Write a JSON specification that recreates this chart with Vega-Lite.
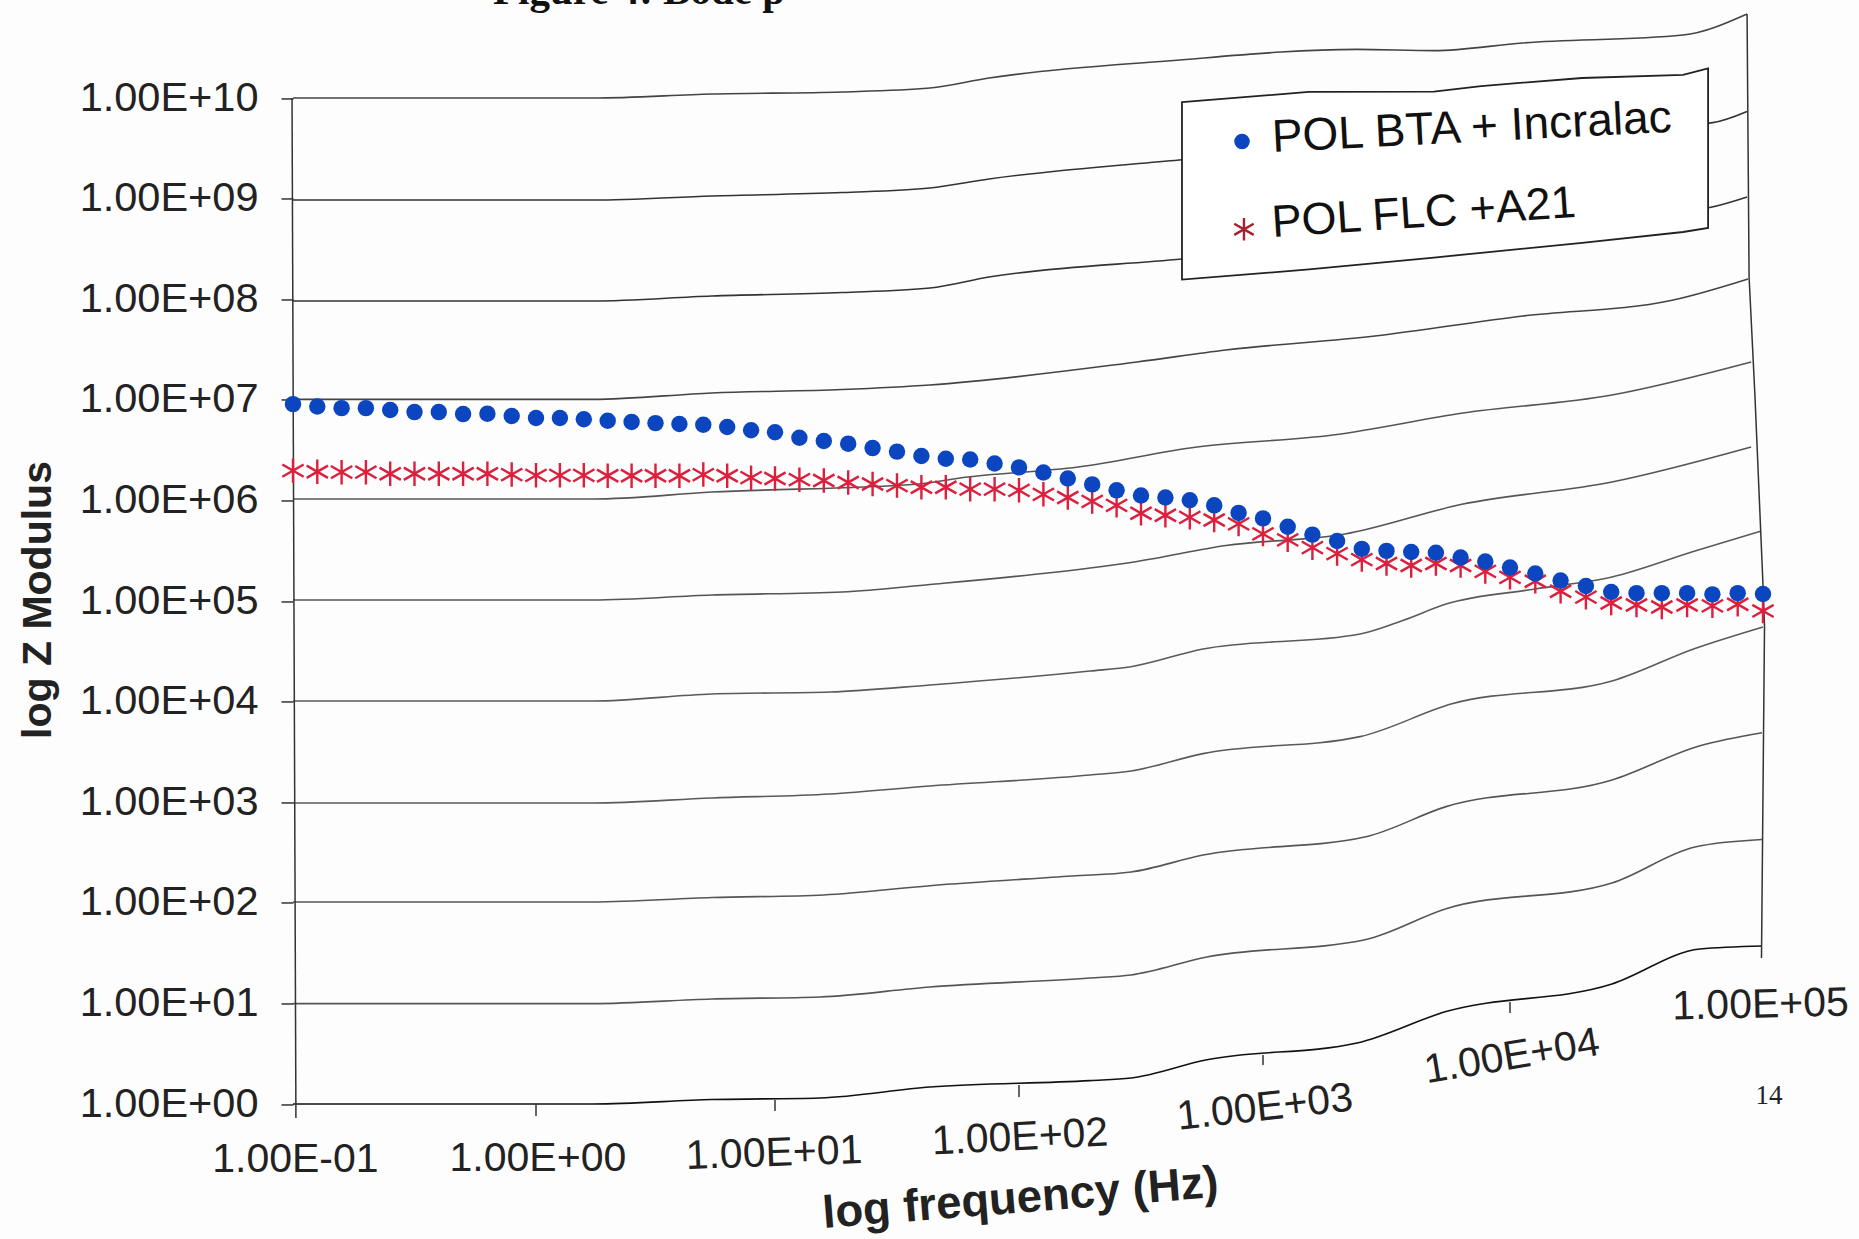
{"$schema":"https://vega.github.io/schema/vega-lite/v6.json","autosize":"none","width":1470,"height":1096.54,"padding":{"left":293,"top":7.46,"right":96,"bottom":135},"background":"#fdfdfd","config":{"view":{"stroke":null},"font":"Liberation Sans"},
"datasets":{
"grid":[
{"s":"1.00E+00","f":-1,"z":0},{"s":"1.00E+00","f":0.238,"z":0},{"s":"1.00E+00","f":0.736,"z":0.044},{"s":"1.00E+00","f":1.184,"z":0.06},{"s":"1.00E+00","f":1.635,"z":0.169},{"s":"1.00E+00","f":2.291,"z":0.232},{"s":"1.00E+00","f":2.459,"z":0.258},{"s":"1.00E+00","f":2.77,"z":0.44},{"s":"1.00E+00","f":3.381,"z":0.606},{"s":"1.00E+00","f":3.741,"z":0.919},{"s":"1.00E+00","f":4.403,"z":1.193},{"s":"1.00E+00","f":4.751,"z":1.541},{"s":"1.00E+00","f":4.996,"z":1.571},
{"s":"1.00E+01","f":-1,"z":0.998},{"s":"1.00E+01","f":0.238,"z":0.998},{"s":"1.00E+01","f":0.736,"z":1.044},{"s":"1.00E+01","f":1.184,"z":1.064},{"s":"1.00E+01","f":1.635,"z":1.163},{"s":"1.00E+01","f":2.291,"z":1.252},{"s":"1.00E+01","f":2.459,"z":1.282},{"s":"1.00E+01","f":2.77,"z":1.461},{"s":"1.00E+01","f":3.417,"z":1.635},{"s":"1.00E+01","f":3.741,"z":1.941},{"s":"1.00E+01","f":4.403,"z":2.197},{"s":"1.00E+01","f":4.731,"z":2.555},{"s":"1.00E+01","f":4.996,"z":2.629},
{"s":"1.00E+02","f":-1,"z":2.008},{"s":"1.00E+02","f":0.238,"z":2.008},{"s":"1.00E+02","f":0.736,"z":2.052},{"s":"1.00E+02","f":1.2,"z":2.078},{"s":"1.00E+02","f":1.635,"z":2.17},{"s":"1.00E+02","f":2.217,"z":2.266},{"s":"1.00E+02","f":2.459,"z":2.306},{"s":"1.00E+02","f":2.754,"z":2.475},{"s":"1.00E+02","f":3.417,"z":2.657},{"s":"1.00E+02","f":3.741,"z":2.956},{"s":"1.00E+02","f":4.403,"z":3.221},{"s":"1.00E+02","f":4.751,"z":3.562},{"s":"1.00E+02","f":4.996,"z":3.691},
{"s":"1.00E+03","f":-1,"z":2.992},{"s":"1.00E+03","f":0.238,"z":2.992},{"s":"1.00E+03","f":0.736,"z":3.042},{"s":"1.00E+03","f":1.225,"z":3.082},{"s":"1.00E+03","f":1.635,"z":3.161},{"s":"1.00E+03","f":2.291,"z":3.27},{"s":"1.00E+03","f":2.459,"z":3.31},{"s":"1.00E+03","f":2.754,"z":3.483},{"s":"1.00E+03","f":3.393,"z":3.652},{"s":"1.00E+03","f":3.765,"z":3.978},{"s":"1.00E+03","f":4.403,"z":4.205},{"s":"1.00E+03","f":4.731,"z":4.528},{"s":"1.00E+03","f":5,"z":4.742},
{"s":"1.00E+04","f":-1,"z":4.006},{"s":"1.00E+04","f":0.238,"z":4.006},{"s":"1.00E+04","f":0.736,"z":4.076},{"s":"1.00E+04","f":1.225,"z":4.095},{"s":"1.00E+04","f":1.635,"z":4.165},{"s":"1.00E+04","f":2.291,"z":4.304},{"s":"1.00E+04","f":2.459,"z":4.347},{"s":"1.00E+04","f":2.754,"z":4.523},{"s":"1.00E+04","f":3.393,"z":4.672},{"s":"1.00E+04","f":3.571,"z":4.811},{"s":"1.00E+04","f":3.741,"z":4.97},{"s":"1.00E+04","f":4.099,"z":5.119},{"s":"1.00E+04","f":4.403,"z":5.239},{"s":"1.00E+04","f":4.731,"z":5.497},{"s":"1.00E+04","f":4.988,"z":5.692},
{"s":"1.00E+05","f":-1,"z":5.01},{"s":"1.00E+05","f":0.238,"z":5.01},{"s":"1.00E+05","f":0.736,"z":5.06},{"s":"1.00E+05","f":1.275,"z":5.09},{"s":"1.00E+05","f":1.635,"z":5.164},{"s":"1.00E+05","f":2.291,"z":5.328},{"s":"1.00E+05","f":2.484,"z":5.393},{"s":"1.00E+05","f":2.848,"z":5.551},{"s":"1.00E+05","f":3.332,"z":5.666},{"s":"1.00E+05","f":3.81,"z":5.964},{"s":"1.00E+05","f":4.403,"z":6.183},{"s":"1.00E+05","f":4.953,"z":6.531},
{"s":"1.00E+06","f":-1,"z":6.014},{"s":"1.00E+06","f":0.238,"z":6.014},{"s":"1.00E+06","f":0.736,"z":6.083},{"s":"1.00E+06","f":1.59,"z":6.163},{"s":"1.00E+06","f":1.758,"z":6.223},{"s":"1.00E+06","f":2.242,"z":6.332},{"s":"1.00E+06","f":2.73,"z":6.531},{"s":"1.00E+06","f":3.283,"z":6.65},{"s":"1.00E+06","f":3.81,"z":6.869},{"s":"1.00E+06","f":4.403,"z":7.048},{"s":"1.00E+06","f":4.953,"z":7.376},
{"s":"1.00E+07","f":-1,"z":7.004},{"s":"1.00E+07","f":0.238,"z":7.004},{"s":"1.00E+07","f":0.736,"z":7.068},{"s":"1.00E+07","f":1.275,"z":7.102},{"s":"1.00E+07","f":1.635,"z":7.147},{"s":"1.00E+07","f":2.484,"z":7.376},{"s":"1.00E+07","f":2.848,"z":7.495},{"s":"1.00E+07","f":3.453,"z":7.634},{"s":"1.00E+07","f":4.051,"z":7.833},{"s":"1.00E+07","f":4.636,"z":7.987},{"s":"1.00E+07","f":4.941,"z":8.201},
{"s":"1.00E+08","f":-1,"z":7.982},{"s":"1.00E+08","f":0.238,"z":7.982},{"s":"1.00E+08","f":0.736,"z":8.032},{"s":"1.00E+08","f":1.275,"z":8.066},{"s":"1.00E+08","f":1.635,"z":8.111},{"s":"1.00E+08","f":1.877,"z":8.22},{"s":"1.00E+08","f":2.668,"z":8.4},{"s":"1.00E+08","f":4.789,"z":8.911},{"s":"1.00E+08","f":4.937,"z":9.016},
{"s":"1.00E+09","f":-1,"z":8.986},{"s":"1.00E+09","f":0.238,"z":8.986},{"s":"1.00E+09","f":0.736,"z":9.026},{"s":"1.00E+09","f":1.275,"z":9.06},{"s":"1.00E+09","f":1.635,"z":9.105},{"s":"1.00E+09","f":1.877,"z":9.195},{"s":"1.00E+09","f":2.656,"z":9.384},{"s":"1.00E+09","f":4.801,"z":9.755},{"s":"1.00E+09","f":4.937,"z":9.866},
{"s":"1.00E+10","f":-1,"z":10},{"s":"1.00E+10","f":0.238,"z":10},{"s":"1.00E+10","f":0.736,"z":10.04},{"s":"1.00E+10","f":1.275,"z":10.06},{"s":"1.00E+10","f":1.635,"z":10.099},{"s":"1.00E+10","f":1.877,"z":10.199},{"s":"1.00E+10","f":2.607,"z":10.368},{"s":"1.00E+10","f":3.381,"z":10.483},{"s":"1.00E+10","f":3.693,"z":10.471},{"s":"1.00E+10","f":4.051,"z":10.547},{"s":"1.00E+10","f":4.684,"z":10.626},{"s":"1.00E+10","f":4.937,"z":10.835}
],
"frame":[
{"s":"left","k":0,"f":-1.004,"z":10},{"s":"left","k":1,"f":-0.988,"z":-0.139},
{"s":"right","k":0,"f":4.937,"z":10.835},{"s":"right","k":1,"f":4.945,"z":8.221},{"s":"right","k":2,"f":4.968,"z":7.048},{"s":"right","k":3,"f":5,"z":5.159},{"s":"right","k":4,"f":5.006,"z":4.752},{"s":"right","k":5,"f":4.994,"z":1.451}
],
"ticks":[{"f":0,"z":0,"z2":-0.119},{"f":1,"z":0.04,"z2":-0.07},{"f":2,"z":0.189,"z2":0.07},{"f":3,"z":0.487,"z2":0.388},{"f":4,"z":1.014,"z2":0.905}],
"box":[{"f":2.668,"z":9.96,"z2":8.195},{"f":3.186,"z":10.06,"z2":8.296},{"f":3.692,"z":10.063,"z2":8.414},{"f":3.883,"z":10.119,"z2":8.461},{"f":4.285,"z":10.199,"z2":8.559},{"f":4.684,"z":10.229,"z2":8.668},{"f":4.783,"z":10.294,"z2":8.708}],
"flc":[{"f":-1,"z":6.296},{"f":-0.9,"z":6.285},{"f":-0.8,"z":6.281},{"f":-0.7,"z":6.281},{"f":-0.6,"z":6.265},{"f":-0.5,"z":6.265},{"f":-0.4,"z":6.265},{"f":-0.3,"z":6.265},{"f":-0.2,"z":6.265},{"f":-0.1,"z":6.257},{"f":0,"z":6.249},{"f":0.1,"z":6.249},{"f":0.2,"z":6.249},{"f":0.3,"z":6.245},{"f":0.4,"z":6.245},{"f":0.5,"z":6.245},{"f":0.6,"z":6.245},{"f":0.7,"z":6.257},{"f":0.8,"z":6.245},{"f":0.9,"z":6.226},{"f":1,"z":6.218},{"f":1.1,"z":6.206},{"f":1.2,"z":6.198},{"f":1.3,"z":6.178},{"f":1.4,"z":6.163},{"f":1.5,"z":6.147},{"f":1.6,"z":6.131},{"f":1.7,"z":6.131},{"f":1.8,"z":6.112},{"f":1.9,"z":6.112},{"f":2,"z":6.1},{"f":2.1,"z":6.06},{"f":2.2,"z":6.029},{"f":2.3,"z":5.99},{"f":2.4,"z":5.951},{"f":2.5,"z":5.872},{"f":2.6,"z":5.852},{"f":2.7,"z":5.832},{"f":2.8,"z":5.805},{"f":2.9,"z":5.766},{"f":3,"z":5.667},{"f":3.1,"z":5.608},{"f":3.2,"z":5.53},{"f":3.3,"z":5.471},{"f":3.4,"z":5.412},{"f":3.5,"z":5.373},{"f":3.6,"z":5.353},{"f":3.7,"z":5.373},{"f":3.8,"z":5.353},{"f":3.9,"z":5.294},{"f":4,"z":5.235},{"f":4.1,"z":5.196},{"f":4.2,"z":5.097},{"f":4.3,"z":5.038},{"f":4.4,"z":4.98},{"f":4.5,"z":4.96},{"f":4.6,"z":4.94},{"f":4.7,"z":4.96},{"f":4.8,"z":4.952},{"f":4.9,"z":4.968},{"f":5,"z":4.901}],
"bta":[{"f":-1,"z":6.957},{"f":-0.9,"z":6.933},{"f":-0.8,"z":6.917},{"f":-0.7,"z":6.917},{"f":-0.6,"z":6.898},{"f":-0.5,"z":6.878},{"f":-0.4,"z":6.878},{"f":-0.3,"z":6.858},{"f":-0.2,"z":6.862},{"f":-0.1,"z":6.839},{"f":0,"z":6.819},{"f":0.1,"z":6.819},{"f":0.2,"z":6.807},{"f":0.3,"z":6.792},{"f":0.4,"z":6.78},{"f":0.5,"z":6.768},{"f":0.6,"z":6.76},{"f":0.7,"z":6.752},{"f":0.8,"z":6.729},{"f":0.9,"z":6.697},{"f":1,"z":6.678},{"f":1.1,"z":6.623},{"f":1.2,"z":6.591},{"f":1.3,"z":6.564},{"f":1.4,"z":6.52},{"f":1.5,"z":6.485},{"f":1.6,"z":6.442},{"f":1.7,"z":6.414},{"f":1.8,"z":6.406},{"f":1.9,"z":6.367},{"f":2,"z":6.328},{"f":2.1,"z":6.277},{"f":2.2,"z":6.218},{"f":2.3,"z":6.159},{"f":2.4,"z":6.1},{"f":2.5,"z":6.049},{"f":2.6,"z":6.029},{"f":2.7,"z":6.002},{"f":2.8,"z":5.951},{"f":2.9,"z":5.876},{"f":3,"z":5.821},{"f":3.1,"z":5.738},{"f":3.2,"z":5.66},{"f":3.3,"z":5.597},{"f":3.4,"z":5.518},{"f":3.5,"z":5.498},{"f":3.6,"z":5.487},{"f":3.7,"z":5.479},{"f":3.8,"z":5.432},{"f":3.9,"z":5.392},{"f":4,"z":5.333},{"f":4.1,"z":5.274},{"f":4.2,"z":5.203},{"f":4.3,"z":5.149},{"f":4.4,"z":5.09},{"f":4.5,"z":5.078},{"f":4.6,"z":5.078},{"f":4.7,"z":5.078},{"f":4.8,"z":5.066},{"f":4.9,"z":5.078},{"f":5,"z":5.07}]
},
"encoding":{
"x":{"field":"f","type":"quantitative","scale":{"domain":[-1,0,1,2,3,4,5],"range":[0,243,482,726,970,1217,1470]},"axis":{"labels":false,"ticks":false,"domain":false,"grid":false,"title":"log frequency (Hz)","titleFont":"Liberation Sans","titleFontSize":45.5,"titleFontWeight":"bold","titleColor":"#222222","titleAngle":-4.5,"titleAlign":"center","titleBaseline":"middle","titleX":727,"titleY":94}},
"y":{"field":"z","type":"quantitative","scale":{"domain":[0,10.9],"nice":false,"zero":false},"axis":{"values":[0,1,2,3,4,5,6,7,8,9,10],"labelExpr":"'1.00E+' + (datum.value < 10 ? '0' : '') + datum.value","labelFont":"Liberation Sans","labelFontSize":41.5,"labelColor":"#222222","labelPadding":23,"tickSize":12,"tickColor":"#333333","tickWidth":1.5,"domain":false,"grid":false,"title":"log Z Modulus","titleFont":"Liberation Sans","titleFontSize":41,"titleFontWeight":"bold","titleColor":"#222222","titleAngle":-90,"titleAlign":"center","titleBaseline":"alphabetic","titleX":-243,"titleY":592}}
},
"layer":[
{"data":{"name":"grid"},"mark":{"type":"line","interpolate":"monotone","strokeWidth":1.6},"encoding":{"detail":{"field":"s"},"color":{"field":"s","type":"nominal","legend":null,"scale":{"domain":["1.00E+00","1.00E+01","1.00E+02","1.00E+03","1.00E+04","1.00E+05","1.00E+06","1.00E+07","1.00E+08","1.00E+09","1.00E+10"],"range":["#111111","#555555","#555555","#5a5a5a","#5a5a5a","#555555","#555555","#444444","#333333","#333333","#444444"]}}}},
{"data":{"name":"frame"},"mark":{"type":"line","color":"#333333","strokeWidth":1.5},"encoding":{"detail":{"field":"s"},"order":{"field":"k"}}},
{"data":{"name":"ticks"},"mark":{"type":"rule","color":"#333333","strokeWidth":1.5},"encoding":{"y2":{"field":"z2"}}},
{"data":{"name":"box"},"mark":{"type":"area","fill":"#ffffff","fillOpacity":1,"stroke":"#222222","strokeWidth":1.8},"encoding":{"y2":{"field":"z2"}}},
{"data":{"name":"flc"},"mark":{"type":"point","shape":"M0,-1L0,1M-0.87,-0.5L0.87,0.5M-0.87,0.5L0.87,-0.5","size":600,"stroke":"#DC1F3C","strokeWidth":2.4,"fill":null,"opacity":1}},
{"data":{"name":"bta"},"mark":{"type":"point","shape":"circle","filled":true,"size":270,"color":"#0B46C0","opacity":1}},
{"data":{"values":[{"f":2.914,"z":9.567}]},"mark":{"type":"point","shape":"circle","filled":true,"size":240,"color":"#0B46C0","opacity":1}},
{"data":{"values":[{"f":2.922,"z":8.695}]},"mark":{"type":"point","shape":"M0,-1L0,1M-0.87,-0.5L0.87,0.5M-0.87,0.5L0.87,-0.5","size":500,"stroke":"#A5202F","strokeWidth":2.4,"fill":null,"opacity":1}},
{"data":{"values":[{"f":3.039,"z":9.463,"label":"POL BTA + Incralac"}]},"mark":{"type":"text","align":"left","baseline":"alphabetic","font":"Liberation Sans","fontSize":46,"angle":-2.9,"color":"#111111"},"encoding":{"text":{"field":"label"}}},
{"data":{"values":[{"f":3.039,"z":8.618,"label":"POL FLC +A21"}]},"mark":{"type":"text","align":"left","baseline":"alphabetic","font":"Liberation Sans","fontSize":45,"angle":-3.8,"color":"#111111"},"encoding":{"text":{"field":"label"}}},
{"data":{"values":[{"f":-0.99,"z":-0.557,"label":"1.00E-01"}]},"mark":{"type":"text","align":"center","baseline":"middle","font":"Liberation Sans","fontSize":41,"color":"#222222"},"encoding":{"text":{"field":"label"}}},
{"data":{"values":[{"f":0.008,"z":-0.542,"label":"1.00E+00"}]},"mark":{"type":"text","align":"center","baseline":"middle","font":"Liberation Sans","fontSize":41,"color":"#222222"},"encoding":{"text":{"field":"label"}}},
{"data":{"values":[{"f":0.996,"z":-0.497,"label":"1.00E+01"}]},"mark":{"type":"text","align":"center","baseline":"middle","font":"Liberation Sans","fontSize":41,"angle":-2,"color":"#222222"},"encoding":{"text":{"field":"label"}}},
{"data":{"values":[{"f":2.004,"z":-0.338,"label":"1.00E+02"}]},"mark":{"type":"text","align":"center","baseline":"middle","font":"Liberation Sans","fontSize":41,"angle":-3,"color":"#222222"},"encoding":{"text":{"field":"label"}}},
{"data":{"values":[{"f":3.008,"z":-0.04,"label":"1.00E+03"}]},"mark":{"type":"text","align":"center","baseline":"middle","font":"Liberation Sans","fontSize":41,"angle":-6.4,"color":"#222222"},"encoding":{"text":{"field":"label"}}},
{"data":{"values":[{"f":4.008,"z":0.467,"label":"1.00E+04"}]},"mark":{"type":"text","align":"center","baseline":"middle","font":"Liberation Sans","fontSize":41,"angle":-9.4,"color":"#222222"},"encoding":{"text":{"field":"label"}}},
{"data":{"values":[{"f":4.99,"z":0.979,"label":"1.00E+05"}]},"mark":{"type":"text","align":"center","baseline":"middle","font":"Liberation Sans","fontSize":41,"angle":-1.3,"color":"#222222"},"encoding":{"text":{"field":"label"}}},
{"data":{"values":[{"f":5.024,"z":0.08,"label":"14"}]},"mark":{"type":"text","align":"center","baseline":"middle","font":"Liberation Serif","fontSize":27,"color":"#222222"},"encoding":{"text":{"field":"label"}}},
{"data":{"values":[{"f":-0.177,"z":10.934,"label":"Figure 4: Bode p"}]},"mark":{"type":"text","align":"left","baseline":"alphabetic","font":"Liberation Serif","fontWeight":"bold","fontSize":41,"color":"#111111"},"encoding":{"text":{"field":"label"}}}
]
}
